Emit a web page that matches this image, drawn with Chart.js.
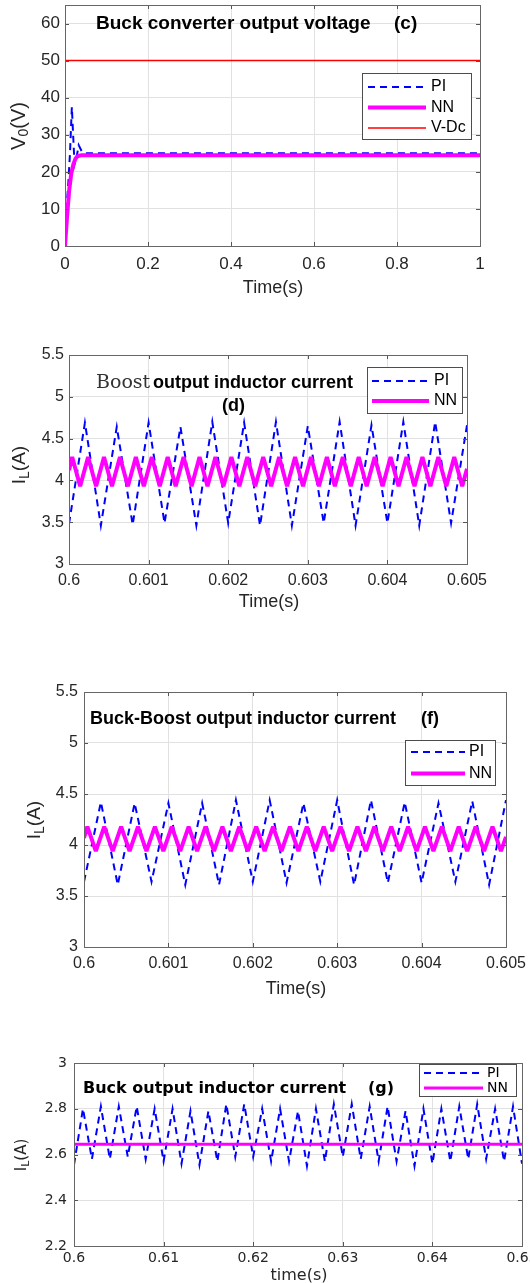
<!DOCTYPE html>
<html lang="en">
<head>
<meta charset="UTF-8">
<title>Converter output curves</title>
<script src="https://cdn.jsdelivr.net/npm/chart.js"></script>
<style>
    html, body { margin: 0; padding: 0; background: #fff; }
    body { width: 530px; height: 1283px; position: relative; overflow: hidden; }
    .box { position: absolute; left: 0; width: 530px; }
</style>
</head>
<body>
<div class="box" style="top:0;height:300px"><canvas id="graficoC"></canvas></div>
<div class="box" style="top:330px;height:290px"><canvas id="graficoD"></canvas></div>
<div class="box" style="top:660px;height:340px"><canvas id="graficoF"></canvas></div>
<div class="box" style="top:1010px;height:273px"><canvas id="graficoG"></canvas></div>

<script>
// ---- (c) buck converter output voltage ----
const cTimePI = [0, 0.003, 0.008, 0.012, 0.0165, 0.02, 0.023, 0.028, 0.033, 0.04, 0.05, 1]
const cPI = [0, 9, 17, 25, 37.5, 29, 22, 24, 27.2, 25.6, 25, 25]
const cTimeNN = [0, 0.005, 0.01, 0.015, 0.02, 0.025, 0.03, 0.04, 1]
const cNN = [0, 8, 15, 19.5, 22, 23.5, 24.2, 24.5, 24.5]
const cTimeVdc = [0, 1]
const cVdc = [50, 50]
const cXTicks = [0, 0.2, 0.4, 0.6, 0.8, 1]
const cXLabels = ['0', '0.2', '0.4', '0.6', '0.8', '1']
const cYTicks = [0, 10, 20, 30, 40, 50, 60]
const cYLabels = ['0', '10', '20', '30', '40', '50', '60']
const cYRange = [0, 65]

// ---- shared time bases of the 0.6 - 0.605 s windows ----
const winTimePI = [0.6, 0.6002, 0.6004, 0.6006, 0.6008, 0.601, 0.6012, 0.6014, 0.6016, 0.6018,
    0.602, 0.6022, 0.6024, 0.6026, 0.6028, 0.603, 0.6032, 0.6034, 0.6036, 0.6038,
    0.604, 0.6042, 0.6044, 0.6046, 0.6048, 0.605]
const winTimeNN = [0.6,
    0.60004, 0.60014, 0.60024, 0.60034, 0.60044, 0.60054, 0.60064, 0.60074, 0.60084, 0.60094,
    0.60104, 0.60114, 0.60124, 0.60134, 0.60144, 0.60154, 0.60164, 0.60174, 0.60184, 0.60194,
    0.60204, 0.60214, 0.60224, 0.60234, 0.60244, 0.60254, 0.60264, 0.60274, 0.60284, 0.60294,
    0.60304, 0.60314, 0.60324, 0.60334, 0.60344, 0.60354, 0.60364, 0.60374, 0.60384, 0.60394,
    0.60404, 0.60414, 0.60424, 0.60434, 0.60444, 0.60454, 0.60464, 0.60474, 0.60484, 0.60494,
    0.605]
const winXTicks = [0.6, 0.601, 0.602, 0.603, 0.604, 0.605]
const winXLabels = ['0.6', '0.601', '0.602', '0.603', '0.604', '0.605']
const winYTicks = [3, 3.5, 4, 4.5, 5, 5.5]
const winYLabels = ['3', '3.5', '4', '4.5', '5', '5.5']

// ---- (d) boost output inductor current ----
const dPI = [3.48, 4.69, 3.46, 4.64, 3.47, 4.69, 3.49, 4.64, 3.46, 4.70, 3.49, 4.69, 3.46,
    4.70, 3.46, 4.65, 3.49, 4.70, 3.46, 4.66, 3.49, 4.70, 3.46, 4.70, 3.49, 4.66]
const dNN = [4.12,
    4.28, 3.93, 4.28, 3.93, 4.28, 3.93, 4.28, 3.93, 4.28, 3.93,
    4.28, 3.93, 4.28, 3.93, 4.28, 3.93, 4.28, 3.93, 4.28, 3.93,
    4.28, 3.93, 4.28, 3.93, 4.28, 3.93, 4.28, 3.93, 4.28, 3.93,
    4.28, 3.93, 4.28, 3.93, 4.28, 3.93, 4.28, 3.93, 4.28, 3.93,
    4.28, 3.93, 4.28, 3.93, 4.28, 3.93, 4.28, 3.93, 4.28, 3.93,
    4.14]

// ---- (f) buck-boost output inductor current ----
const fPI = [3.64, 4.42, 3.61, 4.41, 3.64, 4.41, 3.61, 4.41, 3.61, 4.44, 3.64, 4.44, 3.63,
    4.41, 3.64, 4.44, 3.61, 4.44, 3.63, 4.42, 3.63, 4.41, 3.64, 4.43, 3.61, 4.44]
const fNN = [4.07,
    4.18, 3.94, 4.18, 3.94, 4.18, 3.94, 4.18, 3.94, 4.18, 3.94,
    4.18, 3.94, 4.18, 3.94, 4.18, 3.94, 4.18, 3.94, 4.18, 3.94,
    4.18, 3.94, 4.18, 3.94, 4.18, 3.94, 4.18, 3.94, 4.18, 3.94,
    4.18, 3.94, 4.18, 3.94, 4.18, 3.94, 4.18, 3.94, 4.18, 3.94,
    4.18, 3.94, 4.18, 3.94, 4.18, 3.94, 4.18, 3.94, 4.18, 3.94,
    4.08]

// ---- (g) buck output inductor current ----
const gTime = [0.6, 0.601, 0.602, 0.603, 0.604, 0.605, 0.606, 0.607, 0.608, 0.609,
    0.61, 0.611, 0.612, 0.613, 0.614, 0.615, 0.616, 0.617, 0.618, 0.619,
    0.62, 0.621, 0.622, 0.623, 0.624, 0.625, 0.626, 0.627, 0.628, 0.629,
    0.63, 0.631, 0.632, 0.633, 0.634, 0.635, 0.636, 0.637, 0.638, 0.639,
    0.64, 0.641, 0.642, 0.643, 0.644, 0.645, 0.646, 0.647, 0.648, 0.649, 0.65]
const gPI = [2.555, 2.80, 2.58, 2.81, 2.58, 2.81, 2.59, 2.81, 2.58, 2.80, 2.57, 2.80, 2.56,
    2.79, 2.555, 2.79, 2.57, 2.82, 2.59, 2.82, 2.59, 2.80, 2.57, 2.80, 2.57, 2.79, 2.55, 2.80,
    2.57, 2.82, 2.59, 2.82, 2.58, 2.81, 2.57, 2.81, 2.57, 2.79, 2.55, 2.80, 2.56, 2.80, 2.57,
    2.81, 2.58, 2.82, 2.58, 2.80, 2.57, 2.81, 2.56]
const gTimeNN = [0.6, 0.65]
const gNN = [2.645, 2.645]
const gXTicks = [0.6, 0.61, 0.62, 0.63, 0.64, 0.65]
const gXLabels = ['0.6', '0.61', '0.62', '0.63', '0.64', '0.65']
const gYTicks = [2.2, 2.4, 2.6, 2.8, 3]
const gYLabels = ['2.2', '2.4', '2.6', '2.8', '3']

const AZUL = '#0000ff'
const MAGENTA = '#ff00ff'
const VERMELHO = '#ff0000'
const SANS = '"Liberation Sans", Arial, sans-serif'
const DEJAVU = '"DejaVu Sans", sans-serif'

function pontos(xs, ys) {
    return xs.map((x, i) => ({ x: x, y: ys[i] }))
}

function serie(label, xs, ys, cor, largura, traco, ordem) {
    return {
        label: label,
        data: pontos(xs, ys),
        borderColor: cor,
        borderWidth: largura,
        borderDash: traco,
        borderJoinStyle: traco.length ? 'miter' : 'bevel',
        order: ordem,
        clip: 0,
        fill: false,
        pointRadius: 0,
        tension: 0
    }
}

// frame, inward ticks, texts and legend drawn over the plot
function decoracao(cfg) {
    return {
        id: 'decoracao',
        afterDraw(chart) {
            const ctx = chart.ctx
            const a = chart.chartArea
            const sx = chart.scales.x
            const sy = chart.scales.y
            const L = Math.round(a.left), R = Math.round(a.right)
            const T = Math.round(a.top), B = Math.round(a.bottom)
            ctx.save()

            ctx.strokeStyle = '#555'
            ctx.lineWidth = 1
            ctx.beginPath()
            sx.ticks.forEach(t => {
                const px = Math.round(sx.getPixelForValue(t.value)) + 0.5
                ctx.moveTo(px, B); ctx.lineTo(px, B - 4)
                ctx.moveTo(px, T); ctx.lineTo(px, T + 4)
            })
            sy.ticks.forEach(t => {
                const py = Math.round(sy.getPixelForValue(t.value)) + 0.5
                ctx.moveTo(L, py); ctx.lineTo(L + 4, py)
                ctx.moveTo(R, py); ctx.lineTo(R - 4, py)
            })
            ctx.stroke()
            ctx.strokeStyle = '#666'
            ctx.strokeRect(L + 0.5, T + 0.5, R - L, B - T)

            // titles inside the axes
            ctx.textAlign = 'left'
            cfg.textos.forEach(t => {
                ctx.font = t.font
                ctx.fillStyle = t.cor || '#000'
                ctx.textBaseline = t.base || 'middle'
                ctx.fillText(t.text, t.x, t.y)
            })

            // axis labels
            const xl = cfg.xLabel
            ctx.font = xl.font
            ctx.fillStyle = '#262626'
            ctx.textAlign = 'center'
            ctx.textBaseline = 'middle'
            ctx.fillText(xl.text, xl.x, xl.y)

            const yl = cfg.yLabel
            ctx.save()
            ctx.translate(yl.x, yl.y)
            ctx.rotate(-Math.PI / 2)
            ctx.textAlign = 'left'
            let total = 0
            yl.partes.forEach(p => { ctx.font = p.font; total += ctx.measureText(p.text).width })
            let px = -total / 2
            yl.partes.forEach(p => {
                ctx.font = p.font
                ctx.fillText(p.text, px, p.dy || 0)
                px += ctx.measureText(p.text).width
            })
            ctx.restore()

            // legend box
            const lg = cfg.legenda
            ctx.fillStyle = '#fff'
            ctx.fillRect(lg.box[0], lg.box[1], lg.box[2] - lg.box[0], lg.box[3] - lg.box[1])
            ctx.strokeStyle = '#4d4d4d'
            ctx.lineWidth = 1
            ctx.strokeRect(Math.round(lg.box[0]) + 0.5, Math.round(lg.box[1]) + 0.5,
                Math.round(lg.box[2] - lg.box[0]), Math.round(lg.box[3] - lg.box[1]))
            chart.data.datasets.forEach((ds, i) => {
                const y = lg.linhas[i]
                ctx.save()
                ctx.strokeStyle = ds.borderColor
                ctx.lineWidth = ds.borderWidth
                ctx.setLineDash(ds.borderDash)
                ctx.beginPath()
                ctx.moveTo(lg.traco[0], y)
                ctx.lineTo(lg.traco[1], y)
                ctx.stroke()
                ctx.restore()
                ctx.font = lg.font
                ctx.fillStyle = '#000'
                ctx.textAlign = 'left'
                ctx.textBaseline = 'middle'
                ctx.fillText(ds.label, lg.textoX, y)
            })
            ctx.restore()
        }
    }
}

function plotarGrafico(id, cfg) {
    const a = cfg.area
    new Chart(document.getElementById(id), {
        type: 'line',
        data: { datasets: cfg.datasets },
        options: {
            responsive: true,
            maintainAspectRatio: false,
            animation: false,
            events: [],
            layout: { padding: { top: a.top, right: 530 - a.right, bottom: 0, left: 0 } },
            plugins: { legend: { display: false }, tooltip: { enabled: false } },
            scales: {
                x: {
                    type: 'linear',
                    min: cfg.xTicks[0],
                    max: cfg.xTicks[cfg.xTicks.length - 1],
                    afterBuildTicks: s => { s.ticks = cfg.xTicks.map(v => ({ value: v })) },
                    afterFit: s => {
                        s.height = cfg.altura - a.bottom
                        s.paddingLeft = 0
                        s.paddingRight = 0
                    },
                    grid: { color: '#e1e1e1', drawTicks: false },
                    border: { display: false },
                    ticks: {
                        callback: (v, i) => cfg.xLabels[i],
                        autoSkip: false, maxRotation: 0, minRotation: 0,
                        padding: cfg.xPad,
                        color: '#262626',
                        font: cfg.tickFont
                    }
                },
                y: {
                    type: 'linear',
                    min: cfg.yRange[0],
                    max: cfg.yRange[1],
                    afterBuildTicks: s => { s.ticks = cfg.yTicks.map(v => ({ value: v })) },
                    afterFit: s => {
                        s.width = a.left
                        s.paddingTop = 0
                        s.paddingBottom = 0
                    },
                    grid: { color: '#e1e1e1', drawTicks: false },
                    border: { display: false },
                    ticks: {
                        callback: (v, i) => cfg.yLabels[i],
                        autoSkip: false,
                        padding: cfg.yPad,
                        color: '#262626',
                        font: cfg.tickFont
                    }
                }
            }
        },
        plugins: [decoracao(cfg)]
    })
}

// (c)
plotarGrafico('graficoC', {
    altura: 300,
    area: { left: 65, right: 480, top: 5, bottom: 246 },
    xTicks: cXTicks, xLabels: cXLabels,
    yTicks: cYTicks, yLabels: cYLabels, yRange: cYRange,
    tickFont: { family: SANS, size: 17 }, xPad: 8, yPad: 5,
    datasets: [
        serie('PI', cTimePI, cPI, AZUL, 2, [7, 5], 3),
        serie('NN', cTimeNN, cNN, MAGENTA, 4, [], 2),
        serie('V-Dc', cTimeVdc, cVdc, VERMELHO, 1.5, [], 1)
    ],
    textos: [
        { text: 'Buck converter output voltage', font: 'bold 19px ' + SANS, x: 96, y: 24 },
        { text: '(c)', font: 'bold 19px ' + SANS, x: 394, y: 24 }
    ],
    xLabel: { text: 'Time(s)', font: '18px ' + SANS, x: 273, y: 288 },
    yLabel: {
        x: 19, y: 126, partes: [
            { text: 'V', font: '20px ' + SANS },
            { text: '0', font: '14px ' + SANS, dy: 5 },
            { text: '(V)', font: '20px ' + SANS }
        ]
    },
    legenda: { box: [362, 73, 471, 139], linhas: [87, 107.5, 128], traco: [368, 426], textoX: 431, font: '16px ' + SANS }
})

// (d)
plotarGrafico('graficoD', {
    altura: 290,
    area: { left: 69, right: 467, top: 25, bottom: 234 },
    xTicks: winXTicks, xLabels: winXLabels,
    yTicks: winYTicks, yLabels: winYLabels, yRange: [3, 5.5],
    tickFont: { family: SANS, size: 16 }, xPad: 7, yPad: 5,
    datasets: [
        serie('PI', winTimePI, dPI, AZUL, 2, [7, 5], 3),
        serie('NN', winTimeNN, dNN, MAGENTA, 4, [], 2)
    ],
    textos: [
        { text: 'Boost', font: '19px "DejaVu Serif", serif', cor: '#333', x: 96, y: 58, base: 'alphabetic' },
        { text: 'output inductor current', font: 'bold 18px ' + SANS, x: 153, y: 58, base: 'alphabetic' },
        { text: '(d)', font: 'bold 18px ' + SANS, x: 222, y: 81, base: 'alphabetic' }
    ],
    xLabel: { text: 'Time(s)', font: '18px ' + SANS, x: 269, y: 272 },
    yLabel: {
        x: 20, y: 135, partes: [
            { text: 'I', font: '19px ' + SANS },
            { text: 'L', font: '14px ' + SANS, dy: 5 },
            { text: '(A)', font: '19px ' + SANS }
        ]
    },
    legenda: { box: [367, 37, 462, 83], linhas: [51, 71], traco: [372, 429], textoX: 434, font: '16px ' + SANS }
})

// (f)
plotarGrafico('graficoF', {
    altura: 340,
    area: { left: 84, right: 506, top: 32, bottom: 287 },
    xTicks: winXTicks, xLabels: winXLabels,
    yTicks: winYTicks, yLabels: winYLabels, yRange: [3, 5.5],
    tickFont: { family: SANS, size: 16 }, xPad: 7, yPad: 6,
    datasets: [
        serie('PI', winTimePI, fPI, AZUL, 2, [7, 5], 3),
        serie('NN', winTimeNN, fNN, MAGENTA, 4, [], 2)
    ],
    textos: [
        { text: 'Buck-Boost output inductor current', font: 'bold 18px ' + SANS, x: 90, y: 59 },
        { text: '(f)', font: 'bold 18px ' + SANS, x: 421, y: 59 }
    ],
    xLabel: { text: 'Time(s)', font: '18px ' + SANS, x: 296, y: 329 },
    yLabel: {
        x: 35, y: 160, partes: [
            { text: 'I', font: '19px ' + SANS },
            { text: 'L', font: '14px ' + SANS, dy: 5 },
            { text: '(A)', font: '19px ' + SANS }
        ]
    },
    legenda: { box: [405, 80, 495, 125], linhas: [92, 113.5], traco: [411, 465], textoX: 469, font: '16px ' + SANS }
})

// (g)
plotarGrafico('graficoG', {
    altura: 273,
    area: { left: 74, right: 522, top: 53, bottom: 236 },
    xTicks: gXTicks, xLabels: gXLabels,
    yTicks: gYTicks, yLabels: gYLabels, yRange: [2.2, 3],
    tickFont: { family: DEJAVU, size: 14 }, xPad: 4, yPad: 7,
    datasets: [
        serie('PI', gTime, gPI, AZUL, 2, [7, 5], 3),
        serie('NN', gTimeNN, gNN, MAGENTA, 3, [], 2)
    ],
    textos: [
        { text: 'Buck output inductor current', font: 'bold 16px ' + DEJAVU, x: 83, y: 79 },
        { text: '(g)', font: 'bold 16px ' + DEJAVU, x: 368, y: 79 }
    ],
    xLabel: { text: 'time(s)', font: '16px ' + DEJAVU, x: 299, y: 266 },
    yLabel: {
        x: 22, y: 145, partes: [
            { text: 'I', font: '15px ' + DEJAVU },
            { text: 'L', font: '11px ' + DEJAVU, dy: 4 },
            { text: '(A)', font: '15px ' + DEJAVU }
        ]
    },
    legenda: { box: [419, 54, 516, 86], linhas: [63, 78], traco: [424, 483], textoX: 487, font: '14px ' + DEJAVU }
})
</script>
</body>
</html>
